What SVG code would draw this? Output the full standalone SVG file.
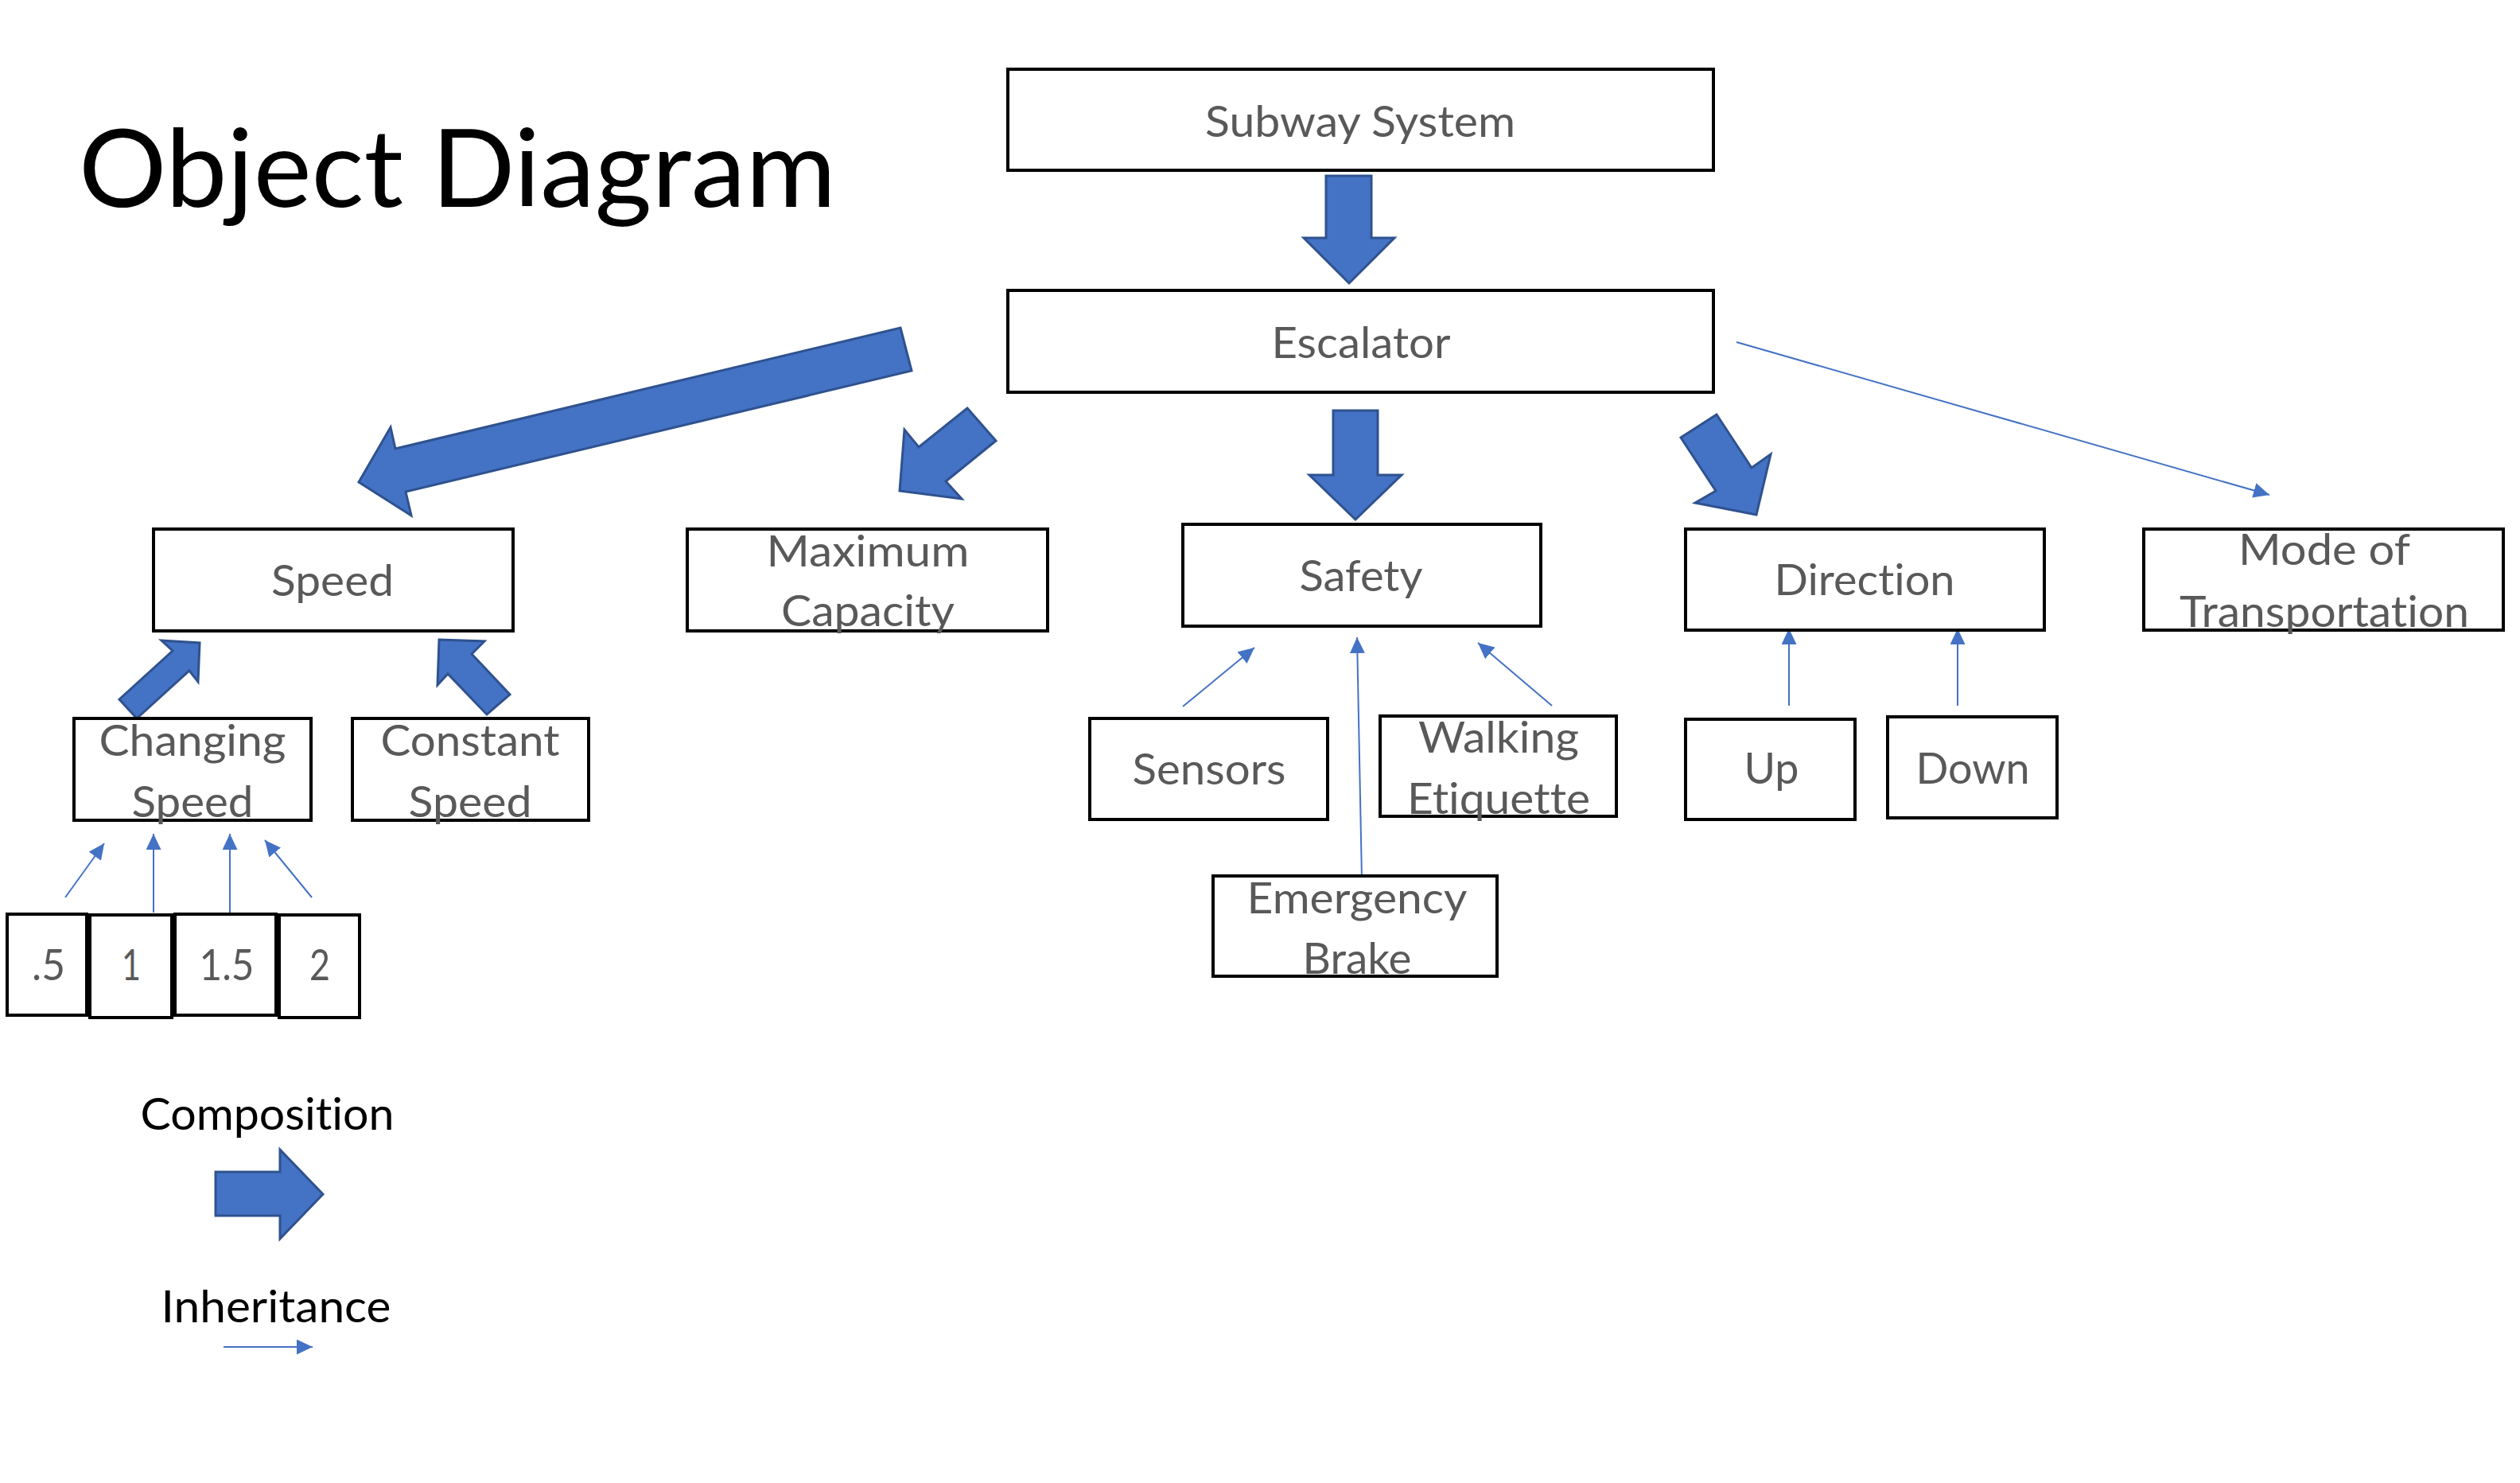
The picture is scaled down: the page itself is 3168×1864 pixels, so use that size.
<svg xmlns="http://www.w3.org/2000/svg" width="3168" height="1864" viewBox="0 0 3168 1864">
<style>
text{font-variant-ligatures:none;font-feature-settings:"liga" 0,"clig" 0}
.box{fill:#fff;stroke:#000;stroke-width:4}
.t{font-family:Lato,"Open Sans","Liberation Sans",sans-serif;font-size:54px;fill:#595959;text-anchor:middle}
.lg{font-family:Lato,"Open Sans","Liberation Sans",sans-serif;font-size:56px;fill:#000;text-anchor:middle}
.title{font-family:Lato,"Open Sans","Liberation Sans",sans-serif;font-size:135px;fill:#000}
.comp{fill:#4472C4;stroke:#2F528F;stroke-width:3;stroke-linejoin:miter}
.inh{stroke:#4472C4;stroke-width:2;fill:none;marker-end:url(#ah)}
</style>
<defs>
<marker id="ah" markerUnits="userSpaceOnUse" viewBox="0 0 20 19" refX="20" refY="9.5" markerWidth="20" markerHeight="19" orient="auto">
<path d="M0,0 L20,9.5 L0,19 z" fill="#4472C4"/>
</marker>
</defs>
<rect width="3168" height="1864" fill="#fff"/>
<text class="title" x="99" y="260" textLength="952" lengthAdjust="spacingAndGlyphs">Object Diagram</text>

<g id="connectors">
<polygon class="comp" points="1667,221 1724,221 1724,299 1753,299 1696,356 1639,299 1667,299"/>
<polygon class="comp" points="1676,516 1732,516 1732,597 1762,597 1704,653 1646,597 1676,597"/>
<polygon class="comp" points="1132,412 1146,466 510,618 517,648 451,606 491,537 497,564"/>
<polygon class="comp" points="1216,513 1252,554 1189,605 1209,627 1131,617 1137,540 1155,562"/>
<polygon class="comp" points="2158,521 2202,588 2226,571 2208,647 2131,632 2157,617 2113,550"/>
<polygon class="comp" points="172,903 150,879 217,818 203,805 251,808 249,857 238,843"/>
<polygon class="comp" points="552,804 609,806 593,822 641,873 612,898 563,847 550,861"/>
<line class="inh" x1="2183" y1="430" x2="2853" y2="622"/>
<line class="inh" x1="82" y1="1128" x2="131" y2="1060"/>
<line class="inh" x1="193" y1="1147" x2="193" y2="1048"/>
<line class="inh" x1="289" y1="1147" x2="289" y2="1048"/>
<line class="inh" x1="392" y1="1128" x2="333" y2="1056"/>
<line class="inh" x1="1487" y1="888" x2="1577" y2="814"/>
<line class="inh" x1="1712" y1="1105" x2="1706" y2="801"/>
<line class="inh" x1="1951" y1="887" x2="1858" y2="808"/>
<line class="inh" x1="2249" y1="887" x2="2249" y2="790"/>
<line class="inh" x1="2461" y1="887" x2="2461" y2="790"/>
</g>

<g id="subway"><rect class="box" x="1267" y="87" width="887" height="127"/><text class="t" x="1710" y="172" textLength="390" lengthAdjust="spacingAndGlyphs">Subway System</text></g>
<g id="escalator"><rect class="box" x="1267" y="365" width="887" height="128"/><text class="t" x="1711" y="450" textLength="225" lengthAdjust="spacingAndGlyphs">Escalator</text></g>
<g id="speed"><rect class="box" x="193" y="665" width="452" height="128"/><text class="t" x="418" y="749" textLength="154" lengthAdjust="spacingAndGlyphs">Speed</text></g>
<g id="maxcap"><rect class="box" x="864" y="665" width="453" height="128"/><text class="t" x="1091" y="712" textLength="255" lengthAdjust="spacingAndGlyphs">Maximum</text><text class="t" x="1091" y="787" textLength="218" lengthAdjust="spacingAndGlyphs">Capacity</text></g>
<g id="safety"><rect class="box" x="1487" y="659" width="450" height="128"/><text class="t" x="1711" y="743" textLength="155" lengthAdjust="spacingAndGlyphs">Safety</text></g>
<g id="direction"><rect class="box" x="2119" y="665" width="451" height="127"/><text class="t" x="2344" y="748" textLength="227" lengthAdjust="spacingAndGlyphs">Direction</text></g>
<g id="mode"><rect class="box" x="2695" y="665" width="452" height="127"/><text class="t" x="2922" y="710" textLength="216" lengthAdjust="spacingAndGlyphs">Mode of</text><text class="t" x="2922" y="788" textLength="364" lengthAdjust="spacingAndGlyphs">Transportation</text></g>
<g id="changing"><rect class="box" x="93" y="903" width="298" height="128"/><text class="t" x="242" y="950" textLength="235" lengthAdjust="spacingAndGlyphs">Changing</text><text class="t" x="242" y="1027" textLength="153" lengthAdjust="spacingAndGlyphs">Speed</text></g>
<g id="constant"><rect class="box" x="443" y="903" width="297" height="128"/><text class="t" x="591" y="950" textLength="225" lengthAdjust="spacingAndGlyphs">Constant</text><text class="t" x="591" y="1027" textLength="155" lengthAdjust="spacingAndGlyphs">Speed</text></g>
<g id="v05"><rect class="box" x="9" y="1149" width="100" height="127"/><text class="t" x="61" y="1232" textLength="42" lengthAdjust="spacingAndGlyphs">.5</text></g>
<g id="v1"><rect class="box" x="113" y="1150" width="103" height="129"/><text class="t" x="165" y="1232" textLength="24" lengthAdjust="spacingAndGlyphs">1</text></g>
<g id="v15"><rect class="box" x="220" y="1149" width="127" height="127"/><text class="t" x="285" y="1232" textLength="69" lengthAdjust="spacingAndGlyphs">1.5</text></g>
<g id="v2"><rect class="box" x="351" y="1150" width="101" height="129"/><text class="t" x="402" y="1232" textLength="26" lengthAdjust="spacingAndGlyphs">2</text></g>
<g id="sensors"><rect class="box" x="1370" y="903" width="299" height="127"/><text class="t" x="1520" y="986" textLength="193" lengthAdjust="spacingAndGlyphs">Sensors</text></g>
<g id="walking"><rect class="box" x="1735" y="900" width="297" height="126"/><text class="t" x="1884" y="946" textLength="202" lengthAdjust="spacingAndGlyphs">Walking</text><text class="t" x="1884" y="1023" textLength="230" lengthAdjust="spacingAndGlyphs">Etiquette</text></g>
<g id="emergency"><rect class="box" x="1525" y="1101" width="357" height="126"/><text class="t" x="1706" y="1148" textLength="277" lengthAdjust="spacingAndGlyphs">Emergency</text><text class="t" x="1706" y="1224" textLength="137" lengthAdjust="spacingAndGlyphs">Brake</text></g>
<g id="up"><rect class="box" x="2119" y="904" width="213" height="126"/><text class="t" x="2227" y="985" textLength="69" lengthAdjust="spacingAndGlyphs">Up</text></g>
<g id="down"><rect class="box" x="2373" y="901" width="213" height="127"/><text class="t" x="2480" y="985" textLength="143" lengthAdjust="spacingAndGlyphs">Down</text></g>

<g id="legend">
<text class="lg" x="336" y="1420" textLength="319" lengthAdjust="spacingAndGlyphs">Composition</text>
<polygon class="comp" points="271,1473 352,1473 352,1445 406,1501 352,1557 352,1528 271,1528"/>
<text class="lg" x="347" y="1662" textLength="289" lengthAdjust="spacingAndGlyphs">Inheritance</text>
<line class="inh" x1="281" y1="1693" x2="393" y2="1693"/>
</g>
</svg>
